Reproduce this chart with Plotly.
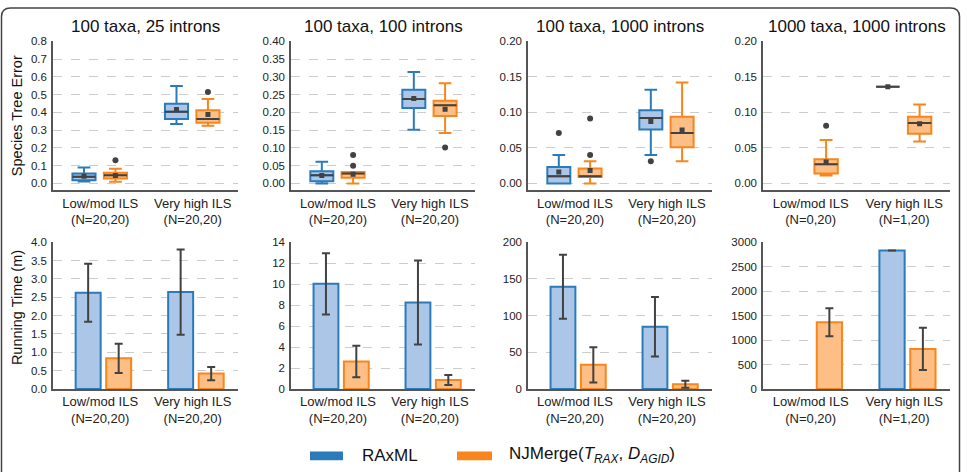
import plotly.graph_objects as go

W, H = 967, 472

# ---------------- data ----------------
panel_titles = ["100 taxa, 25 introns", "100 taxa, 100 introns",
                "100 taxa, 1000 introns", "1000 taxa, 1000 introns"]
categories = ["Low/mod ILS", "Very high ILS"]
n_labels = [["(N=20,20)", "(N=20,20)"], ["(N=20,20)", "(N=20,20)"],
            ["(N=20,20)", "(N=20,20)"], ["(N=0,20)", "(N=1,20)"]]
method_names = ["RAxML", "NJMerge(<i>T</i><sub><i>RAX</i></sub>, <i>D</i><sub><i>AGID</i></sub>)"]

error_ymax = [0.8, 0.4, 0.2, 0.2]
error_dtick = [0.1, 0.05, 0.05, 0.05]
error_fmt = [".1f", ".2f", ".2f", ".2f"]
time_ymax = [4.0, 14, 200, 3000]
time_dtick = [0.5, 2, 50, 500]
time_fmt = [".1f", "d", "d", "d"]

# Species tree error box statistics, per panel: [Low/mod, Very high]
rax_lower = [[0.010, 0.335], [0.000, 0.151], [0.000, 0.040], [None, 0.136]]
rax_q1 = [[0.018, 0.363], [0.006, 0.212], [0.000, 0.076], [None, 0.136]]
rax_median = [[0.037, 0.403], [0.023, 0.238], [0.010, 0.092], [None, 0.136]]
rax_q3 = [[0.055, 0.449], [0.034, 0.264], [0.023, 0.103], [None, 0.136]]
rax_upper = [[0.090, 0.548], [0.061, 0.314], [0.040, 0.132], [None, 0.136]]
rax_mean = [[0.040, 0.416], [0.022, 0.239], [0.016, 0.087], [None, 0.136]]
rax_outliers = [[[], []], [[], []], [[0.071], [0.031]], [[], []]]

njm_lower = [[0.009, 0.324], [0.000, 0.142], [0.000, 0.031], [0.011, 0.059]]
njm_q1 = [[0.027, 0.342], [0.016, 0.190], [0.009, 0.051], [0.014, 0.070]]
njm_median = [[0.046, 0.363], [0.028, 0.220], [0.010, 0.071], [0.027, 0.085]]
njm_q3 = [[0.060, 0.412], [0.032, 0.233], [0.021, 0.094], [0.034, 0.094]]
njm_upper = [[0.082, 0.476], [0.032, 0.282], [0.031, 0.142], [0.061, 0.111]]
njm_mean = [[0.045, 0.388], [0.026, 0.209], [0.018, 0.075], [0.030, 0.084]]
njm_outliers = [[[0.130], [0.515]], [[0.05, 0.08], [0.101]],
                [[0.04, 0.0915], []], [[0.081], []]]

# Running time (minutes): mean and error, per panel: [Low/mod, Very high]
rax_time = [[2.62, 2.64], [10.03, 8.25], [139.3, 84.8], [None, 2829]]
rax_time_err = [[0.79, 1.16], [2.92, 4.0], [43.5, 40.6], [None, 0]]
njm_time = [[0.835, 0.42], [2.62, 0.86], [33.0, 6.6], [1365, 818]]
njm_time_err = [[0.40, 0.18], [1.50, 0.47], [24.0, 4.8], [287, 432]]

# ---------------- style ----------------
BLUE_EDGE, BLUE_FILL = "#2b7bba", "#abc6e6"
ORANGE_EDGE, ORANGE_FILL = "#f7861c", "#fdbf85"
DARK = "#424242"
AXIS = "#555555"
GRID = "#cccccc"
FONT = "Liberation Sans, Arial, sans-serif"

col_px = [(53, 238), (291, 475), (528, 712), (763, 950)]
top_px = (36, 189)      # top of range, axis line
zero_top = 182          # pixel of 0 in top row
bot_px = (242, 393)

BOX_W = 0.25
BOX_OFF = [-0.175, 0.165]
BAR_W = 0.27
BAR_OFF = [-0.13, 0.20]
XR = [-0.51, 1.49]


def px_x(v):
    return v / W


def px_y(v):
    return 1 - v / H


fig = go.Figure()

methods = [
    dict(lower=rax_lower, q1=rax_q1, med=rax_median, q3=rax_q3, upper=rax_upper,
         mean=rax_mean, out=rax_outliers, time=rax_time, err=rax_time_err,
         edge=BLUE_EDGE, fill=BLUE_FILL),
    dict(lower=njm_lower, q1=njm_q1, med=njm_median, q3=njm_q3, upper=njm_upper,
         mean=njm_mean, out=njm_outliers, time=njm_time, err=njm_time_err,
         edge=ORANGE_EDGE, fill=ORANGE_FILL),
]

layout_axes = {}
for p in range(4):
    ti = p + 1
    bi = p + 5
    xt, yt = ("x" if ti == 1 else f"x{ti}"), ("y" if ti == 1 else f"y{ti}")
    xb, yb = f"x{bi}", f"y{bi}"

    # ---- boxes ----
    for m, md in enumerate(methods):
        for c in range(2):
            if md["q1"][p][c] is None:
                continue
            pos = c + BOX_OFF[m]
            fig.add_trace(go.Box(
                x=[pos], q1=[md["q1"][p][c]], median=[md["med"][p][c]],
                q3=[md["q3"][p][c]], lowerfence=[md["lower"][p][c]],
                upperfence=[md["upper"][p][c]], width=BOX_W, whiskerwidth=0.55,
                fillcolor=md["fill"], line=dict(color=md["edge"], width=2),
                boxpoints=False, hoverinfo="skip", xaxis=xt, yaxis=yt))
            fig.add_trace(go.Scatter(
                x=[pos - BOX_W / 2, pos + BOX_W / 2],
                y=[md["med"][p][c], md["med"][p][c]], mode="lines",
                line=dict(color=DARK, width=2), xaxis=xt, yaxis=yt))
            fig.add_trace(go.Scatter(
                x=[pos], y=[md["mean"][p][c]], mode="markers",
                marker=dict(symbol="square", size=5, color=DARK),
                xaxis=xt, yaxis=yt))
            outs = md["out"][p][c]
            if outs:
                fig.add_trace(go.Scatter(
                    x=[pos] * len(outs), y=outs, mode="markers",
                    marker=dict(symbol="circle", size=6, color=DARK),
                    xaxis=xt, yaxis=yt))

    # ---- bars ----
    for m, md in enumerate(methods):
        fig.add_trace(go.Bar(
            x=[c + BAR_OFF[m] for c in range(2)], y=md["time"][p],
            width=BAR_W,
            marker=dict(color=md["fill"], line=dict(color=md["edge"], width=2)),
            error_y=dict(type="data", array=md["err"][p], visible=True,
                         color=DARK, thickness=2, width=4),
            xaxis=xb, yaxis=yb))

    ticktext = [f"{categories[c]}<br>{n_labels[p][c]}" for c in range(2)]
    xdom = [px_x(col_px[p][0]), px_x(col_px[p][1])]
    xcommon = dict(range=XR, tickvals=[0, 1], ticktext=ticktext, showline=True,
                   linecolor=AXIS, linewidth=1.5, showgrid=False, zeroline=False,
                   ticks="", tickfont=dict(size=13, color="#222", family=FONT),
                   domain=xdom, fixedrange=True)
    ycommon = dict(showgrid=True, gridcolor=GRID, griddash="dash", gridwidth=1,
                   showline=True, linecolor=AXIS, linewidth=1.5, zeroline=False,
                   ticks="", tickfont=dict(size=11.5, color="#222", family=FONT),
                   tick0=0, ticklabelstandoff=2, fixedrange=True)

    ymax = error_ymax[p]
    ymin = -ymax * (top_px[1] - zero_top) / (zero_top - top_px[0])
    layout_axes[f"xaxis{ti}" if ti > 1 else "xaxis"] = dict(xcommon, anchor=yt)
    layout_axes[f"yaxis{ti}" if ti > 1 else "yaxis"] = dict(
        ycommon, anchor=xt, range=[ymin, ymax * 1.002], dtick=error_dtick[p],
        tickformat=error_fmt[p],
        domain=[px_y(top_px[1]), px_y(top_px[0])])

    tmax = time_ymax[p]
    layout_axes[f"xaxis{bi}"] = dict(xcommon, anchor=yb)
    layout_axes[f"yaxis{bi}"] = dict(
        ycommon, anchor=xb, range=[0, tmax * 1.002], dtick=time_dtick[p],
        tickformat=time_fmt[p],
        domain=[px_y(bot_px[1]), px_y(bot_px[0])])

annotations = []
for p in range(4):
    cx = (col_px[p][0] + col_px[p][1]) / 2
    annotations.append(dict(text=panel_titles[p], x=px_x(cx), y=px_y(21),
                            xref="paper", yref="paper", showarrow=False,
                            xanchor="center", yanchor="middle",
                            font=dict(size=17, color="#111", family=FONT)))
annotations.append(dict(text="Species Tree Error", x=px_x(17), y=px_y(113),
                        xref="paper", yref="paper", showarrow=False, textangle=-90,
                        xanchor="center", yanchor="middle",
                        font=dict(size=14.5, color="#111", family=FONT)))
annotations.append(dict(text="Running Time (m)", x=px_x(17), y=px_y(310),
                        xref="paper", yref="paper", showarrow=False, textangle=-90,
                        xanchor="center", yanchor="middle",
                        font=dict(size=14.5, color="#111", family=FONT)))

# legend (manual)
shapes = []
legend_items = [(310, 343, 360, method_names[0], BLUE_EDGE),
                (457, 492, 507, method_names[1], ORANGE_EDGE)]
for x0, x1, tx, name, col in legend_items:
    shapes.append(dict(type="rect", xref="paper", yref="paper",
                       x0=px_x(x0), x1=px_x(x1), y0=px_y(466), y1=px_y(457),
                       fillcolor=col, line=dict(width=0)))
    annotations.append(dict(text=name, x=px_x(tx), y=px_y(461), xref="paper",
                            yref="paper", showarrow=False, xanchor="left",
                            yanchor="middle",
                            font=dict(size=17, color="#111", family=FONT)))

# rounded frame around the figure
L, T, R, B, r = 1.5, 2.0, 959.5, 500.0, 9.0
path = (f"M {px_x(L)},{px_y(B)} L {px_x(L)},{px_y(T + r)} "
        f"Q {px_x(L)},{px_y(T)} {px_x(L + r)},{px_y(T)} "
        f"L {px_x(R - r)},{px_y(T)} Q {px_x(R)},{px_y(T)} {px_x(R)},{px_y(T + r)} "
        f"L {px_x(R)},{px_y(B)}")
shapes.append(dict(type="path", xref="paper", yref="paper", path=path,
                   line=dict(color="#444", width=1.5), layer="below"))

fig.update_layout(
    width=W, height=H, margin=dict(l=0, r=0, t=0, b=0),
    paper_bgcolor="white", plot_bgcolor="white", showlegend=False,
    font=dict(family=FONT, color="#222"),
    annotations=annotations, shapes=shapes, barmode="overlay",
    **layout_axes)

fig.write_html("out.html")
